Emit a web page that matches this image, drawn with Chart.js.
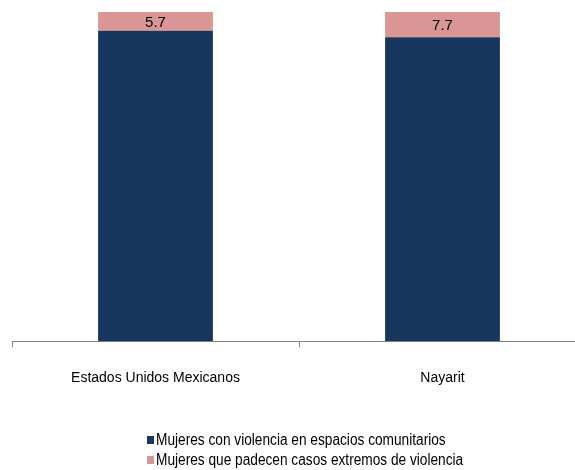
<!DOCTYPE html>
<html><head><meta charset="utf-8">
<script src="https://cdn.jsdelivr.net/npm/chart.js@4"></script>
<style>
html,body{margin:0;padding:0;background:#fff;overflow:hidden;}
#wrap{position:relative;width:575px;height:470px;overflow:hidden;}
#c{position:absolute;left:0;top:0;}
#legend{position:absolute;left:147px;top:430px;font-family:"Liberation Sans",Arial,sans-serif;font-size:16px;line-height:20px;color:#000;}
#legend div{display:flex;align-items:center;white-space:nowrap;}
#legend span.box{display:inline-block;width:7px;height:8px;margin-right:2px;flex:none;}
#legend span.txt{display:inline-block;transform:scaleX(0.855);transform-origin:left center;}
</style></head>
<body>
<div id="wrap"><canvas id="c" width="600" height="470"></canvas><div id="legend"></div></div>
<script>
const categories = ["Estados Unidos Mexicanos", "Nayarit"];
const seriesNames = ["Mujeres con violencia en espacios comunitarios", "Mujeres que padecen casos extremos de violencia"];
const comunitarios = [94.3, 92.3];
const extremos = [5.7, 7.7];
const colors = ["#17375E", "#D99694"];
const FONT = '"Liberation Sans",Arial,sans-serif';

const labelPlugin = {
  id: 'segLabels',
  afterDatasetsDraw(chart) {
    const ctx = chart.ctx;
    const meta = chart.getDatasetMeta(1);
    ctx.save();
    ctx.font = '15px ' + FONT;
    ctx.fillStyle = '#000';
    ctx.textAlign = 'center';
    ctx.textBaseline = 'middle';
    meta.data.forEach((bar, i) => {
      const p = bar.getProps(['x','y','base'], true);
      ctx.fillText(extremos[i].toFixed(1), p.x, (p.y + p.base) / 2 + 1);
    });
    ctx.restore();
  }
};

new Chart(document.getElementById('c'), {
  type: 'bar',
  data: {
    labels: categories,
    datasets: [
      {label: seriesNames[0], data: comunitarios, backgroundColor: colors[0]},
      {label: seriesNames[1], data: extremos, backgroundColor: colors[1]}
    ]
  },
  options: {
    responsive: false,
    animation: false,
    datasets: {bar: {categoryPercentage: 1, barPercentage: 0.40}},
    layout: {padding: {left: 12, right: 14, top: 12, bottom: 60}},
    plugins: {legend: {display: false}, tooltip: {enabled: false}},
    scales: {
      x: {
        stacked: true,
        grid: {drawOnChartArea: false, drawTicks: true, tickLength: 6, color: '#808080'},
        border: {color: '#808080'},
        ticks: {color: '#000', font: {family: FONT, size: 14}, padding: 23}
      },
      y: {stacked: true, display: false, min: 0, max: 100}
    }
  },
  plugins: [labelPlugin]
});

const lg = document.getElementById('legend');
seriesNames.forEach((n, i) => {
  const d = document.createElement('div');
  const b = document.createElement('span');
  b.className = 'box'; b.style.background = colors[i];
  const t = document.createElement('span');
  t.className = 'txt'; t.textContent = n;
  d.appendChild(b);
  d.appendChild(t);
  lg.appendChild(d);
});
</script>
</body></html>
